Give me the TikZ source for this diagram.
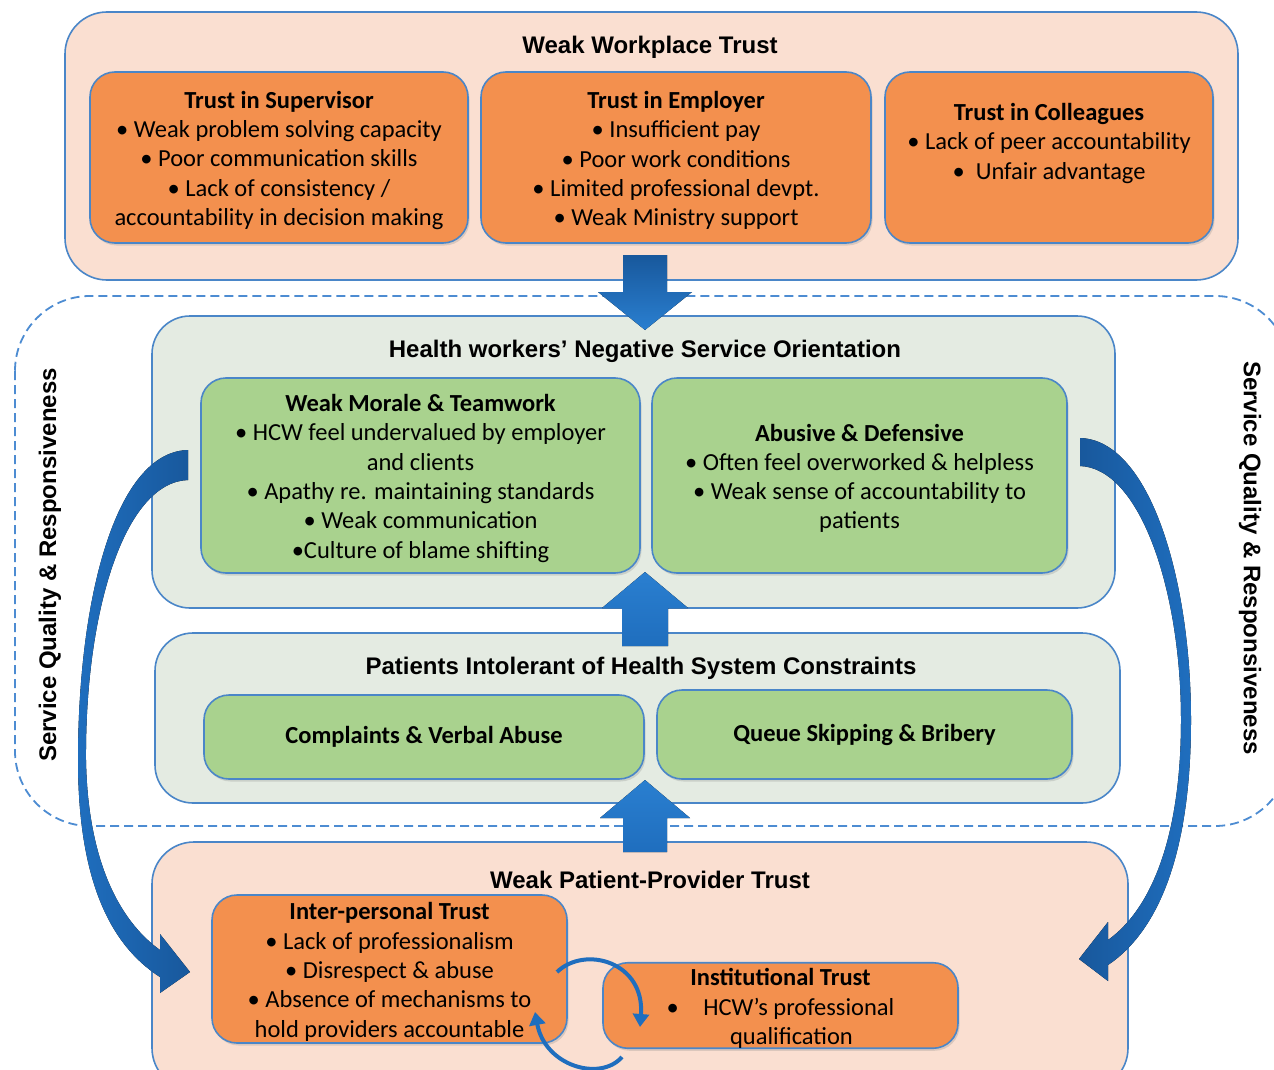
\documentclass[tikz,border=0pt]{standalone}
\usepackage{fontspec}
\setmainfont{Carlito}
\newfontfamily\arialfont{Liberation Sans}
\usetikzlibrary{shadows,arrows.meta}
\definecolor{peach}{HTML}{FADFD1}
\definecolor{orangebox}{HTML}{F3904E}
\definecolor{bord}{HTML}{4A86C8}
\definecolor{panel}{HTML}{E4EBE2}
\definecolor{greenbox}{HTML}{A9D28E}
\definecolor{arrdark}{HTML}{18589C}
\definecolor{arrlight}{HTML}{2A7FD0}
\definecolor{arrmid}{HTML}{1F6EBE}
\definecolor{dashblue}{HTML}{4D8CD2}
\newcommand{\mytopstrut}{\rule{0pt}{23pt}}
\tikzset{
  body/.style={font=\fontsize{24.5}{29.3}\selectfont, align=center, text=black},
  ttl/.style={font=\arialfont\bfseries\fontsize{24}{29}\selectfont, text=black, inner sep=0pt},
  outerbox/.style={draw=bord, line width=1.6pt, fill=peach, rounded corners=42pt, inner sep=0pt},
  panelbox/.style={draw=bord, line width=1.6pt, fill=panel, rounded corners=38pt, inner sep=0pt},
  obox/.style={draw=bord, line width=1.6pt, fill=orangebox, rounded corners=25pt, body, inner sep=0pt,
    drop shadow={opacity=0.25, shadow xshift=1.5pt, shadow yshift=-2.5pt}},
  gbox/.style={draw=bord, line width=1.6pt, fill=greenbox, rounded corners=25pt, body, inner sep=0pt,
    drop shadow={opacity=0.25, shadow xshift=1.5pt, shadow yshift=-2.5pt}},
  dashframe/.style={draw=dashblue, line width=1.8pt, dash pattern=on 9pt off 5pt, rounded corners=75pt},
  blockdown/.style={top color=arrdark, bottom color=arrlight},
  blockup/.style={top color=arrlight, bottom color=arrmid},
  smallarr/.style={draw=arrmid, line width=4pt, -{Triangle[length=13pt,width=16pt]}},
}
\begin{document}
\begin{tikzpicture}[x=1pt,y=-1pt]
\useasboundingbox (0,0) rectangle (1274,1070);
\fill[white] (0,0) rectangle (1274,1070);

% dashed frame
\draw[dashframe] (15,296) rectangle (1290,826);

% top group
\node[outerbox, minimum width=1173pt, minimum height=268pt] (wwt) at (651.5,146) {};
\node[ttl] (wwtt) at (650,47) {Weak Workplace Trust};
\node[obox, minimum width=378pt, minimum height=171pt] (sup) at (279,157.5)
  {\mytopstrut\textbf{Trust in Supervisor}\\ • Weak problem solving capacity\\ • Poor communication skills\\ • Lack of consistency /\\ accountability in decision making};
\node[obox, minimum width=390pt, minimum height=171pt] (emp) at (676,157.5)
  {\mytopstrut\textbf{Trust in Employer}\\ • Insufficient pay\\ • Poor work conditions\\ • Limited professional devpt.\\ • Weak Ministry support};
\node[obox, minimum width=328pt, minimum height=171pt] (col) at (1049,157.5)
  {\mytopstrut\textbf{Trust in Colleagues}\\ • Lack of peer accountability\\ •\ \ Unfair advantage\\ \strut};

% health workers
\node[panelbox, minimum width=963pt, minimum height=292pt] (hwn) at (633.5,462) {};
\node[ttl] (hwnt) at (645,351) {Health workers’ Negative Service Orientation};
\node[gbox, minimum width=439pt, minimum height=195pt] (mor) at (420.5,475.5)
  {\mytopstrut\textbf{Weak Morale \& Teamwork}\\ • HCW feel undervalued by employer\\ and clients\\ • Apathy re. maintaining standards\\ • Weak communication\\ •Culture of blame shifting};
\node[gbox, minimum width=415pt, minimum height=195pt] (abu) at (859.5,475.5)
  {\mytopstrut\textbf{Abusive \& Defensive}\\ • Often feel overworked \& helpless\\ • Weak sense of accountability to\\ patients};

% patients
\node[panelbox, minimum width=965pt, minimum height=170pt] (pat) at (637.5,718) {};
\node[ttl] (patt) at (641,668) {Patients Intolerant of Health System Constraints};
\node[gbox, minimum width=440pt, minimum height=84pt] (com) at (424,737) {\textbf{Complaints \& Verbal Abuse}};
\node[gbox, minimum width=415pt, minimum height=89pt] (que) at (864.5,734.5) {\textbf{Queue Skipping \& Bribery}};

% patient-provider
\node[outerbox, minimum width=976pt, minimum height=248pt] (wpp) at (640,966) {};
\node[ttl] (wppt) at (650,880) {Weak Patient-Provider Trust};
\node[obox, minimum width=355pt, minimum height=148pt] (int) at (389.5,969)
  {\mytopstrut\textbf{Inter-personal Trust}\\ • Lack of professionalism\\ • Disrespect \& abuse\\ • Absence of mechanisms to\\ hold providers accountable};
\node[obox, minimum width=355pt, minimum height=85pt] (ins) at (780.5,1005.5)
  {\mytopstrut\textbf{Institutional Trust}\\ •\quad HCW’s professional\\ \hspace*{22pt}qualification};

% side labels
\node[ttl, rotate=90] (sqleft) at (50,565) {Service Quality \& Responsiveness};
\node[ttl, rotate=-90] (sqright) at (1250,558) {Service Quality \& Responsiveness};

% block arrows
\fill[blockdown] (623,255) -- (667,255) -- (667,292) -- (692,292) -- (645,330) -- (598,292) -- (623,292) -- cycle;
\fill[blockup] (622,646) -- (668,646) -- (668,608) -- (688,608) -- (645,572) -- (602,608) -- (622,608) -- cycle;
\fill[blockup] (623,852) -- (667,852) -- (667,818) -- (690,818) -- (645,780) -- (600,818) -- (623,818) -- cycle;

% big curved arrows
\fill[left color=arrmid, right color=arrdark]
  (188,450) .. controls (115,452) and (78,600) .. (78,760)
  .. controls (78,880) and (110,945) .. (160,977)
  -- (160,993) -- (190,972) -- (160,934) -- (160,950)
  .. controls (125,925) and (88,870) .. (86,760)
  .. controls (85,610) and (125,482) .. (188,480) -- cycle;
\fill[left color=arrdark, right color=arrmid]
  (1080,438) .. controls (1150,440) and (1191,580) .. (1191,720)
  .. controls (1191,850) and (1160,930) .. (1108,965)
  -- (1108,981) -- (1079,959) -- (1108,922) -- (1108,940)
  .. controls (1150,910) and (1181,840) .. (1181,720)
  .. controls (1181,590) and (1140,468) .. (1080,466) -- cycle;

% small curved arrows
\draw[smallarr] (557,972) .. controls (585,945) and (645,962) .. (640,1027);
\draw[smallarr] (622,1057) .. controls (600,1082) and (545,1066) .. (535,1012);
\end{tikzpicture}
\end{document}
